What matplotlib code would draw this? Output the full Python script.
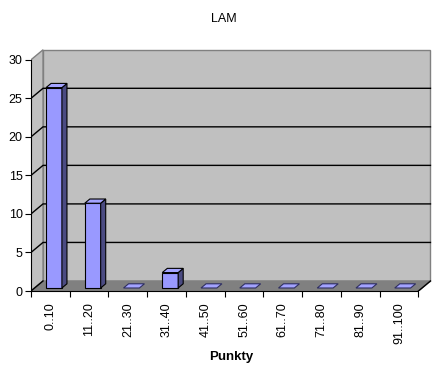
import matplotlib
matplotlib.use("Agg")
import matplotlib.pyplot as plt
from matplotlib.patches import Polygon

plt.rcParams['font.family'] = ['Liberation Sans', 'DejaVu Sans']

title = "LAM"
xlabel = "Punkty"
categories = ["0..10", "11..20", "21..30", "31..40", "41..50",
              "51..60", "61..70", "71..80", "81..90", "91..100"]
counts = [26, 11, 0, 2, 0, 0, 0, 0, 0, 0]
yticks = [0, 5, 10, 15, 20, 25, 30]

# 3d look: depth offset of the back wall in data units
dx, dy = 0.31, 1.3
ymax = 30
n = len(categories)

fig = plt.figure(figsize=(4.48, 3.74), dpi=100)
ax = fig.add_axes([31 / 448, 83 / 374, 401 / 448, 242 / 374])
ax.set_xlim(0, n + dx + 0.04)
ax.set_ylim(0, ymax + dy + 0.1)
ax.patch.set_alpha(0)

wall = "#c0c0c0"
edge = "#808080"
# back wall
ax.add_patch(Polygon([(dx, dy), (n + dx, dy), (n + dx, ymax + dy), (dx, ymax + dy)],
                     closed=True, fc=wall, ec=edge, lw=1, zorder=1))
# left wall
ax.add_patch(Polygon([(0, 0), (dx, dy), (dx, ymax + dy), (0, ymax)],
                     closed=True, fc=wall, ec=edge, lw=1, zorder=1))
# floor
ax.add_patch(Polygon([(0, 0), (n, 0), (n + dx, dy), (dx, dy)],
                     closed=True, fc="#808080", ec="#808080", lw=1, zorder=1))
ax.plot([n, n + dx], [0, dy], color="black", lw=1, zorder=2)
ax.plot([0, dx], [0, dy], color="black", lw=1, zorder=2)

# gridlines on back and left walls
for v in yticks[1:-1]:
    ax.plot([0, dx, n + dx], [v, v + dy, v + dy], color="black", lw=1, zorder=2)

# bars
w = 0.41
zf, zb = 0.3, 0.72
front_c = "#9999ff"
top_c = "#a3a3ff"
side_c = "#4b4b82"
for i, v in enumerate(counts):
    xl = i + 0.5 - w / 2 + zf * dx
    xr = xl + w
    yb = zf * dy
    ddx = (zb - zf) * dx
    ddy = (zb - zf) * dy
    if v > 0:
        ax.add_patch(Polygon([(xl, yb), (xr, yb), (xr, yb + v), (xl, yb + v)],
                             closed=True, fc=front_c, ec="black", lw=0.8, zorder=3))
        ax.add_patch(Polygon([(xr, yb), (xr + ddx, yb + ddy), (xr + ddx, yb + v + ddy), (xr, yb + v)],
                             closed=True, fc=side_c, ec="black", lw=0.8, zorder=3))
    ax.add_patch(Polygon([(xl, yb + v), (xr, yb + v), (xr + ddx, yb + v + ddy), (xl + ddx, yb + v + ddy)],
                         closed=True, fc=top_c, ec="black" if v > 0 else "#303060",
                         lw=0.8, zorder=3))

# front axes
for s in ["top", "right"]:
    ax.spines[s].set_visible(False)
ax.spines["left"].set_bounds(0, ymax)
ax.spines["bottom"].set_bounds(0, n)
ax.spines["left"].set_zorder(4)
ax.spines["bottom"].set_zorder(4)
ax.set_yticks(yticks)
ax.tick_params(axis="y", direction="out", length=4, labelsize=9, pad=2)
ax.set_xticks(range(n + 1))
ax.set_xticklabels([])
ax.set_xticks([i + 0.5 for i in range(n)], minor=True)
ax.set_xticklabels(categories, minor=True, rotation=90, fontsize=9)
ax.tick_params(axis="x", which="major", direction="out", length=4)
ax.tick_params(axis="x", which="minor", length=0, pad=8)

ax.set_xlabel(xlabel, fontsize=9.5, fontweight="bold", labelpad=5)
fig.text(224 / 448, 1 - 19 / 374, title, ha="center", va="center", fontsize=9)

fig.savefig("out.png", dpi=100)
